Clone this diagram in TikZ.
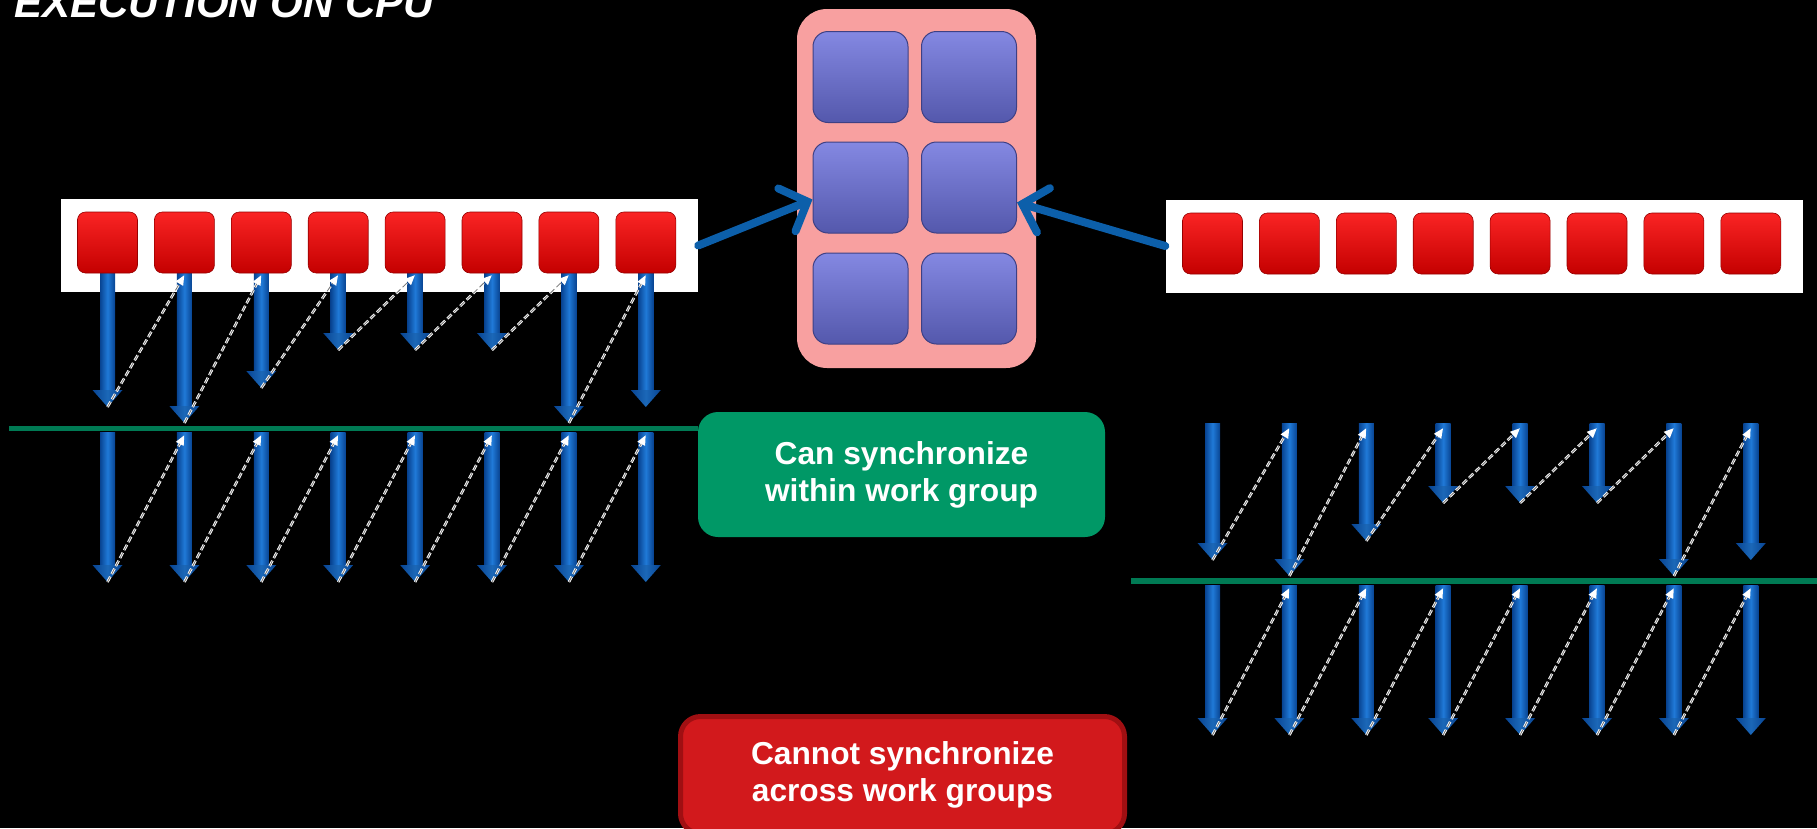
\documentclass[tikz,border=0pt]{standalone}
\usepackage{fontspec}
\setmainfont{Liberation Sans}
\usetikzlibrary{arrows.meta,calc}

\definecolor{wiLight}{RGB}{32,122,216}
\definecolor{wiDark}{RGB}{8,68,146}
\definecolor{linkBlue}{RGB}{12,95,170}
\definecolor{corePink}{RGB}{248,160,160}
\definecolor{peTop}{RGB}{132,136,226}
\definecolor{peBot}{RGB}{84,88,172}
\definecolor{peEdge}{RGB}{62,64,132}
\definecolor{itemTop}{RGB}{250,36,36}
\definecolor{itemBot}{RGB}{196,0,0}
\definecolor{itemEdge}{RGB}{150,0,0}
\definecolor{syncGreen}{RGB}{0,152,102}
\definecolor{barrierGreen}{RGB}{0,122,84}
\definecolor{noteRed}{RGB}{210,25,28}
\definecolor{noteEdge}{RGB}{160,15,18}

% one work-item: a shaded shaft and head, from its top point to its tip
\newcommand\workarrow[2]{%
  \fill[left color=wiDark,right color=wiDark,middle color=wiLight]
    ($(#1)+(-7.5,0)$) rectangle ($(#2)+(7.5,-15)$);
  \fill[left color=wiDark,right color=wiDark,middle color=wiLight!85!black]
    ($(#2)+(-15,-17)$) -- ($(#2)+(15,-17)$) -- (#2) -- cycle;
}

\begin{document}
\begin{tikzpicture}[x=1pt,y=-1pt,
  groupbar/.style={fill=white,draw=none,minimum width=637pt,minimum height=93pt,inner sep=0pt},
  item/.style={rounded corners=8pt,top color=itemTop,bottom color=itemBot,draw=itemEdge,
    line width=0.6pt,minimum width=60pt,minimum height=61pt,inner sep=0pt},
  pe/.style={rounded corners=15pt,top color=peTop,bottom color=peBot,draw=peEdge,
    line width=1pt,minimum width=95pt,minimum height=91pt,inner sep=0pt},
  link/.style={draw=linkBlue,line width=8pt,line cap=round,
    -{Straight Barb[length=22pt,width=46pt,line cap=round]}},
  barrier/.style={draw=barrierGreen,line width=5.5pt},
  dashlink/.style={draw=white,line width=2.6pt,dash pattern=on 6pt off 3pt,
    -{Triangle[length=10pt,width=8pt]}},
  dashcore/.style={draw=black!55,line width=0.8pt,dash pattern=on 6pt off 3pt,shorten >=10pt},
  label/.style={text=white,align=center,font=\fontsize{31.7}{37}\selectfont\bfseries,inner sep=0pt}]

\fill[black] (0,0) rectangle (1817,828);
\useasboundingbox (0,0) rectangle (1817,828);

% title
\node[anchor=base west,inner sep=0pt,text=white,
  font=\fontsize{42}{50}\selectfont\bfseries\itshape] (title) at (14,17) {EXECUTION ON CPU};

% compute unit with its processing elements
\node[fill=corePink,rounded corners=30pt,minimum width=239pt,minimum height=359pt] (core) at (916.5,188.5) {};
\node[pe] (b11) at (860.5,77) {};
\node[pe] (b12) at (969,77) {};
\node[pe] (b21) at (860.5,187.5) {};
\node[pe] (b22) at (969,187.5) {};
\node[pe] (b31) at (860.5,298.5) {};
\node[pe] (b32) at (969,298.5) {};

% work-group bars
\node[groupbar] (lbar) at (379.5,245.5) {};
\node[groupbar] (rbar) at (1484,246) {};

% work-item arrow end points
\foreach \i/\t in {0/407,1/423,2/388,3/350,4/350,5/350,6/423,7/407}{
  \coordinate (LUt\i) at ({107.5+76.9*\i},270);
  \coordinate (LUb\i) at ({107.5+76.9*\i},\t);
  \coordinate (LLt\i) at ({107.5+76.9*\i},432);
  \coordinate (LLb\i) at ({107.5+76.9*\i},582);
  \coordinate (RUt\i) at ({1212.5+76.9*\i},423);
  \coordinate (RUb\i) at ({1212.5+76.9*\i},{\t+153});
  \coordinate (RLt\i) at ({1212.5+76.9*\i},585);
  \coordinate (RLb\i) at ({1212.5+76.9*\i},735);
}

\foreach \i in {0,...,7}{
  \workarrow{LUt\i}{LUb\i}
  \workarrow{LLt\i}{LLb\i}
  \workarrow{RUt\i}{RUb\i}
  \workarrow{RLt\i}{RLb\i}
}

% work-items
\foreach \i in {0,...,7}{
  \node[item] (L\i) at ({107.5+76.9*\i},242.5) {};
  \node[item] (R\i) at ({1212.5+76.9*\i},243.5) {};
}

% notes
\node[fill=syncGreen,rounded corners=20pt,minimum width=407pt,minimum height=125pt,label] (sync) at (901.5,474.5)
  {Can synchronize\\within work group};
\node[fill=noteRed,draw=noteEdge,line width=5pt,rounded corners=20pt,minimum width=444pt,minimum height=117pt,label] (nosync) at (902.5,775)
  {Cannot synchronize\\across work groups};

% barriers
\coordinate (gL) at (9,428.5);
\draw[barrier] (gL) -- (gL -| sync.west);
\coordinate (gR1) at (1131,581);
\coordinate (gR2) at (1817,581);
\draw[barrier] (gR1) -- (gR2);

% execution order
\foreach \i/\j in {0/1,1/2,2/3,3/4,4/5,5/6,6/7}{
  \draw[dashlink] (LUb\i) -- ([yshift=-5pt]LUt\j);
  \draw[dashcore] (LUb\i) -- ([yshift=-5pt]LUt\j);
  \draw[dashlink] (LLb\i) -- ([yshift=-3pt]LLt\j);
  \draw[dashcore] (LLb\i) -- ([yshift=-3pt]LLt\j);
  \draw[dashlink] (RUb\i) -- ([yshift=-5pt]RUt\j);
  \draw[dashcore] (RUb\i) -- ([yshift=-5pt]RUt\j);
  \draw[dashlink] (RLb\i) -- ([yshift=-3pt]RLt\j);
  \draw[dashcore] (RLb\i) -- ([yshift=-3pt]RLt\j);
}

% work groups dispatched to the compute unit
\draw[link] (lbar.east) -- ([yshift=-12pt]b21.west);
\draw[link] (rbar.west) -- ([yshift=-15pt]b22.east);

\end{tikzpicture}
\end{document}
